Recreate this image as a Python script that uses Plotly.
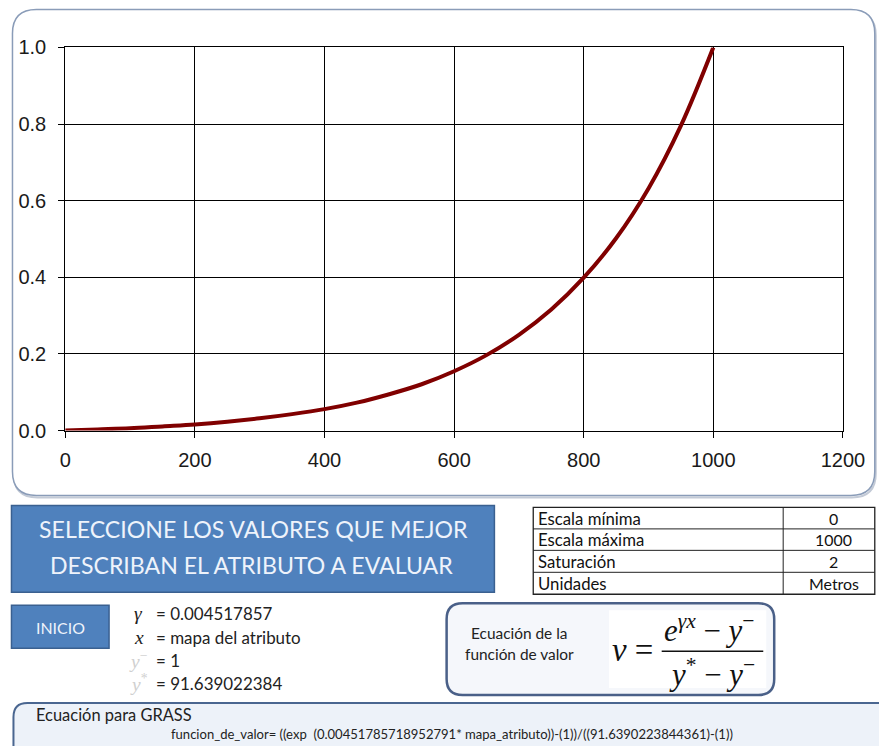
import math
import plotly.graph_objects as go

# ---- data ----
distancia = [0, 50, 100, 150, 200, 250, 300, 350, 400, 450, 500, 550, 600,
             650, 700, 750, 800, 850, 900, 950, 1000]
valor = [0.0, 0.003, 0.006, 0.011, 0.016, 0.023, 0.032, 0.043, 0.056, 0.073,
         0.095, 0.121, 0.155, 0.197, 0.250, 0.316, 0.399, 0.502, 0.632, 0.796, 1.0]

x_ticks = [0, 200, 400, 600, 800, 1000, 1200]
y_ticks = [0.0, 0.2, 0.4, 0.6, 0.8, 1.0]

tabla_etiquetas = ["Escala mínima", "Escala máxima", "Saturación", "Unidades"]
tabla_valores = ["0", "1000", "2", "Metros"]

gamma_txt = "0.004517857"
x_txt = "mapa del atributo"
ymin_txt = "1"
ymax_txt = "91.639022384"
grass_txt = "funcion_de_valor= ((exp  (0.00451785718952791* mapa_atributo))-(1))/((91.6390223844361)-(1))"

# layout helpers: positions given in target-picture pixels
S, OX, OY = 0.973, 4.5, 9.5
W = math.ceil((879 - OX) / S)
H = math.ceil((746 - OY) / S)


def X(px):
    return ((px - OX) / S) / W


def Y(py):
    return 1 - ((py - OY) / S) / H


def F(sz):
    return sz / S


def rrect(x0, y0, x1, y1, r):
    return (f"M {X(x0+r)},{Y(y0)} L {X(x1-r)},{Y(y0)} Q {X(x1)},{Y(y0)} {X(x1)},{Y(y0+r)} "
            f"L {X(x1)},{Y(y1-r)} Q {X(x1)},{Y(y1)} {X(x1-r)},{Y(y1)} "
            f"L {X(x0+r)},{Y(y1)} Q {X(x0)},{Y(y1)} {X(x0)},{Y(y1-r)} "
            f"L {X(x0)},{Y(y0+r)} Q {X(x0)},{Y(y0)} {X(x0+r)},{Y(y0)} Z")


fig = go.Figure()
fig.add_trace(go.Scatter(x=distancia, y=valor, mode="lines",
                         line=dict(color="#800000", width=4, shape="spline"),
                         showlegend=False, hoverinfo="skip"))

shapes = []
annots = []

# chart panel (with soft shadow)
shapes.append(dict(type="path", xref="paper", yref="paper", path=rrect(12, 10, 878, 497, 24),
                   line=dict(color="#c3cad6", width=2), fillcolor="rgba(0,0,0,0)", layer="below"))
shapes.append(dict(type="path", xref="paper", yref="paper", path=rrect(11, 8, 877, 495, 24),
                   line=dict(color="#8a9cb8", width=1.5), fillcolor="white", layer="below"))

# blue title box
shapes.append(dict(type="rect", xref="paper", yref="paper", x0=X(10), x1=X(495), y0=Y(592), y1=Y(505),
                   line=dict(color="#3a6090", width=1.5), fillcolor="#4f81bd"))
annots.append(dict(x=X(253), y=Y(529), text="SELECCIONE LOS VALORES QUE MEJOR",
                   font=dict(family="Lato", size=F(22.5), color="#eef3fb")))
annots.append(dict(x=X(251), y=Y(565), text="DESCRIBAN EL ATRIBUTO A EVALUAR",
                   font=dict(family="Lato", size=F(22.5), color="#eef3fb")))

# table
tx0, tx1, tmid = 534, 877, 785
rows = [507, 528.5, 550, 572, 594]
shapes.append(dict(type="rect", xref="paper", yref="paper", x0=X(tx0), x1=X(tx1), y0=Y(rows[-1]), y1=Y(rows[0]),
                   line=dict(color="#222", width=1.3), fillcolor="white"))
for ry in rows[1:-1]:
    shapes.append(dict(type="line", xref="paper", yref="paper", x0=X(tx0), x1=X(tx1), y0=Y(ry), y1=Y(ry),
                       line=dict(color="#222", width=1)))
shapes.append(dict(type="line", xref="paper", yref="paper", x0=X(tmid), x1=X(tmid), y0=Y(rows[0]), y1=Y(rows[-1]),
                   line=dict(color="#222", width=1)))
for i, (lab, val) in enumerate(zip(tabla_etiquetas, tabla_valores)):
    cy = (rows[i] + rows[i + 1]) / 2
    annots.append(dict(x=X(537), y=Y(cy), text=lab, xanchor="left",
                       font=dict(family="Lato", size=F(16.3), color="#111")))
    annots.append(dict(x=X((tmid + tx1) / 2 + 5), y=Y(cy), text=val,
                       font=dict(family="Lato", size=F(15.5), color="#111")))

# INICIO button
shapes.append(dict(type="rect", xref="paper", yref="paper", x0=X(10), x1=X(108), y0=Y(648), y1=Y(605),
                   line=dict(color="#3a6090", width=1.5), fillcolor="#4f81bd"))
annots.append(dict(x=X(59), y=Y(627), text="INICIO",
                   font=dict(family="Lato", size=F(15.5), color="#eef3fb")))

# variables
var_rows = [
    ("<i>γ</i>", gamma_txt, "#222", 613),
    ("<i>x</i>", x_txt, "#222", 637),
    ("<i>y</i><sup>−</sup>", ymin_txt, "#d0d0d0", 660),
    ("<i>y</i><sup>*</sup>", ymax_txt, "#d0d0d0", 683),
]
for sym, val, col, ry in var_rows:
    annots.append(dict(x=X(138), y=Y(ry), text=sym,
                       font=dict(family="Liberation Serif", size=F(19), color=col)))
    annots.append(dict(x=X(153), y=Y(ry), text="= " + val, xanchor="left",
                       font=dict(family="Lato", size=F(16.5), color="#222")))

# equation box
shapes.append(dict(type="path", xref="paper", yref="paper", path=rrect(447, 603, 776, 695, 16),
                   line=dict(color="#4a6088", width=2.5), fillcolor="#f5f7fb"))
shapes.append(dict(type="rect", xref="paper", yref="paper", x0=X(610), x1=X(768), y0=Y(688), y1=Y(610),
                   line=dict(width=0), fillcolor="white"))
annots.append(dict(x=X(520), y=Y(633), text="Ecuación de la",
                   font=dict(family="Lato", size=F(15), color="#222")))
annots.append(dict(x=X(520), y=Y(654), text="función de valor",
                   font=dict(family="Lato", size=F(15), color="#222")))
annots.append(dict(x=X(611), y=Y(650), text="<i>v</i> =", xanchor="left",
                   font=dict(family="Liberation Serif", size=F(32), color="#111")))
annots.append(dict(x=X(711), y=Y(628), text="<i>e</i><sup><i>γx</i></sup> − <i>y</i><sup>−</sup>",
                   font=dict(family="Liberation Serif", size=F(30), color="#111")))
annots.append(dict(x=X(714), y=Y(672), text="<i>y</i><sup>*</sup> − <i>y</i><sup>−</sup>",
                   font=dict(family="Liberation Serif", size=F(30), color="#111")))
shapes.append(dict(type="line", xref="paper", yref="paper", x0=X(663), x1=X(765), y0=Y(651), y1=Y(651),
                   line=dict(color="#111", width=1.5)))

# GRASS box
shapes.append(dict(type="path", xref="paper", yref="paper", path=rrect(12, 703, 900, 775, 14),
                   line=dict(color="#4a6690", width=2), fillcolor="#edf2f9"))
annots.append(dict(x=X(33), y=Y(715), text="Ecuación para GRASS", xanchor="left",
                   font=dict(family="Lato", size=F(16), color="#222")))
annots.append(dict(x=X(168), y=Y(734), text=grass_txt, xanchor="left",
                   font=dict(family="Lato", size=F(12.7), color="#222")))

for a in annots:
    a.setdefault("xref", "paper")
    a.setdefault("yref", "paper")
    a.setdefault("showarrow", False)
    a.setdefault("xanchor", "center")
    a.setdefault("yanchor", "middle")

tick_font = dict(family="Liberation Sans", size=F(19.5), color="#1a1a1a")
fig.update_layout(
    width=W, height=H,
    margin=dict(l=0, r=0, t=0, b=0),
    paper_bgcolor="white", plot_bgcolor="white",
    shapes=shapes, annotations=annots,
    xaxis=dict(domain=[X(64), X(845)], range=[0, 1200], tickvals=x_ticks,
               showgrid=True, gridcolor="black", gridwidth=1, zeroline=False,
               showline=True, linecolor="black", linewidth=1, mirror=True,
               ticks="outside", ticklen=6, tickcolor="black",
               ticklabelstandoff=5, tickfont=tick_font),
    yaxis=dict(domain=[Y(430), Y(46)], range=[0, 1], tickvals=y_ticks, tickformat=".1f",
               showgrid=True, gridcolor="black", gridwidth=1, zeroline=False,
               showline=True, linecolor="black", linewidth=1, mirror=True,
               ticks="outside", ticklen=6, tickcolor="black",
               ticklabelstandoff=8, tickfont=tick_font),
)

fig.write_html("out.html", config={"displayModeBar": False},
               post_script="document.body.style.margin='0';document.body.style.overflow='hidden';")
